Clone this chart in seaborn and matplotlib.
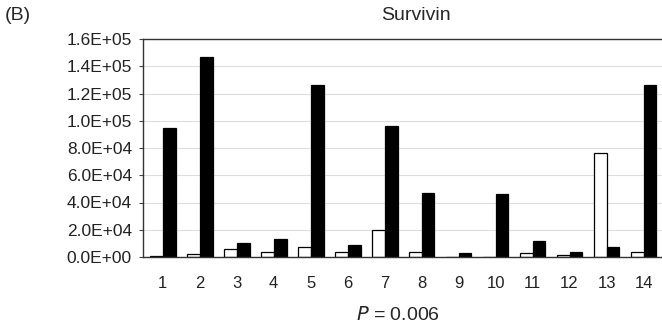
import matplotlib
matplotlib.use("Agg")
import matplotlib.pyplot as plt
import seaborn as sns
import pandas as pd
import numpy as np

categories = [str(i) for i in range(1, 15)]
white_vals = [1000, 2000, 6000, 3500, 7000, 4000, 20000, 3500, 300, 300, 3000, 1500, 76000, 4000]
black_vals = [95000, 147000, 10000, 13500, 126000, 8500, 96000, 47000, 3000, 46000, 12000, 4000, 7500, 126000]
series_names = ["Normal", "Tumor"]
ytick_vals = [0, 20000, 40000, 60000, 80000, 100000, 120000, 140000, 160000]
ytick_labels = ["0.0E+00", "2.0E+04", "4.0E+04", "6.0E+04", "8.0E+04", "1.0E+05", "1.2E+05", "1.4E+05", "1.6E+05"]

df = pd.DataFrame({
    "cat": categories * 2,
    "series": [series_names[0]] * len(categories) + [series_names[1]] * len(categories),
    "value": white_vals + black_vals,
})

sns.set_style("white")
plt.rcParams["font.family"] = ["Liberation Sans", "DejaVu Sans"]

fig = plt.figure(figsize=(6.62, 3.33), dpi=100)
ax = fig.add_axes([143 / 662, 1 - 257 / 333, 1 - 143 / 662, (257 - 39) / 333])

sns.barplot(data=df, x="cat", y="value", hue="series", order=categories,
            palette={series_names[0]: "white", series_names[1]: "black"},
            edgecolor="black", linewidth=0.9, width=0.7, ax=ax, legend=False)

ax.set_ylim(0, 160000)
ax.set_xlim(-0.53, 13.27)
ax.set_yticks(ytick_vals)
ax.set_yticklabels(ytick_labels, fontsize=12.5, color="#222222")
for t in ax.get_xticklabels():
    t.set_fontsize(12)
    t.set_color("#222222")
ax.yaxis.grid(True, color="#dddddd", linewidth=0.8)
ax.set_axisbelow(True)
ax.set_xlabel("")
ax.set_ylabel("")
ax.tick_params(axis="x", length=0, pad=14)
ax.set_xticks(np.arange(len(categories)) + 0.5, minor=True)
ax.tick_params(axis="x", which="minor", length=4, color="#444444", direction="out")
ax.tick_params(axis="y", length=3, color="#444444", direction="out", left=True, pad=5)

for s in ["top", "left", "bottom"]:
    ax.spines[s].set_visible(True)
    ax.spines[s].set_color("#333333")
    ax.spines[s].set_linewidth(1.0)
ax.spines["right"].set_visible(False)

fig.text(416 / 662, 1 - 15 / 333, "Survivin", ha="center", va="center", fontsize=14)
fig.text(5 / 662, 1 - 16 / 333, "(B)", ha="left", va="center", fontsize=14)
fig.text(398 / 662, 1 - 315 / 333, r"$\it{P}$ = 0.006", ha="center", va="center", fontsize=14)

fig.savefig("out.png", dpi=100)
